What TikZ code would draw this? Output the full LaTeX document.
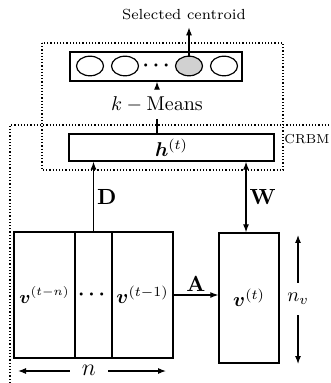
\documentclass[tikz,border=0pt]{standalone}
\usetikzlibrary{arrows.meta,shapes.geometric}
\usepackage{amsmath,bm}
\begin{document}
\begin{tikzpicture}[x=0.5pt,y=-0.5pt,
  box/.style={draw,line width=0.7pt,inner sep=0pt},
  conn/.style={line width=0.55pt,-{Latex[length=4pt,width=3pt]}},
  biconn/.style={line width=0.55pt,{Latex[length=4pt,width=3pt]}-{Latex[length=4pt,width=3pt]}},
  plain/.style={line width=0.55pt},
  grp/.style={densely dotted,line width=0.6pt},
  ell/.style={ellipse,draw,line width=0.6pt,minimum width=13.5pt,minimum height=9.8pt,inner sep=0pt},
  lbl/.style={font=\fontsize{11}{13}\selectfont,inner sep=1.5pt}]
\useasboundingbox (0,0) rectangle (330,383);
% dotted groups
\draw[grp] (42,43) rectangle (283,170);
\draw[grp] (10,383) -- (10,125) -- (330,125);
\node[font=\fontsize{6.5}{7}\selectfont] (crbm) at (307,139) {CRBM};
% centroid bar
\node[box,minimum width=86pt,minimum height=14.5pt] (bar) at (156,66.5) {};
\node[ell] (e1) at (90,66) {};
\node[ell] (e2) at (125,66) {};
\node (dots) at (158,66) {$\boldsymbol{\cdots}$};
\node[ell,fill=black!18] (e3) at (189,66) {};
\node[ell] (e4) at (224,66) {};
\node[font=\fontsize{7.3}{9}\selectfont] (sel) at (184,15) {Selected centroid};
\draw[conn] (e3.north) -- (e3.north |- sel.south);
% hidden layer
\node[box,minimum width=102.5pt,minimum height=13.5pt] (h) at (171.5,147.5) {$\boldsymbol{h}^{(t)}$};
\node (km) at (157,104) {$k - \mathrm{Means}$};
\draw[plain] (km.south) -- (km.south |- h.north);
\draw[conn] (km.north) -- (km.north |- bar.south);
% visible history
\node[box,minimum width=30.5pt,minimum height=63pt] (b1) at (44.5,295) {\small$\boldsymbol{v}^{(t-n)}$};
\node[box,minimum width=18.5pt,minimum height=63pt] (b2) at (93.5,295) {$\boldsymbol{\cdots}$};
\node[box,minimum width=30.5pt,minimum height=63pt] (b3) at (142.5,295) {$\boldsymbol{v}^{(t-1)}$};
\node[box,minimum width=30pt,minimum height=65pt] (v) at (249,298) {$\boldsymbol{v}^{(t)}$};
% connections
\draw[conn] (b2.north) -- (b2.north |- h.south) node[midway,right,lbl] {$\mathbf{D}$};
\draw[biconn] ([xshift=-1.5pt]v.north) -- ([xshift=-1.5pt]v.north |- h.south) node[midway,right,lbl] {$\mathbf{W}$};
\draw[conn] (b3.east) -- (b3.east -| v.west) node[midway,above,lbl] {$\mathbf{A}$};
% dimensions
\node[minimum height=16pt,inner sep=0pt] (nv) at (298,299) {$n_v$};
\coordinate (nvt) at (298,235);
\coordinate (nvb) at (298,364);
\draw[conn] (nv.north) -- (nvt);
\draw[conn] (nv.south) -- (nvb);
\node[minimum width=19pt,inner sep=0pt,font=\large] (n) at (89,370) {$n$};
\coordinate (nl) at (18,371);
\coordinate (nr) at (166,371);
\draw[conn] (n.west |- nl) -- (nl);
\draw[conn] (n.east |- nr) -- (nr);
\end{tikzpicture}
\end{document}
